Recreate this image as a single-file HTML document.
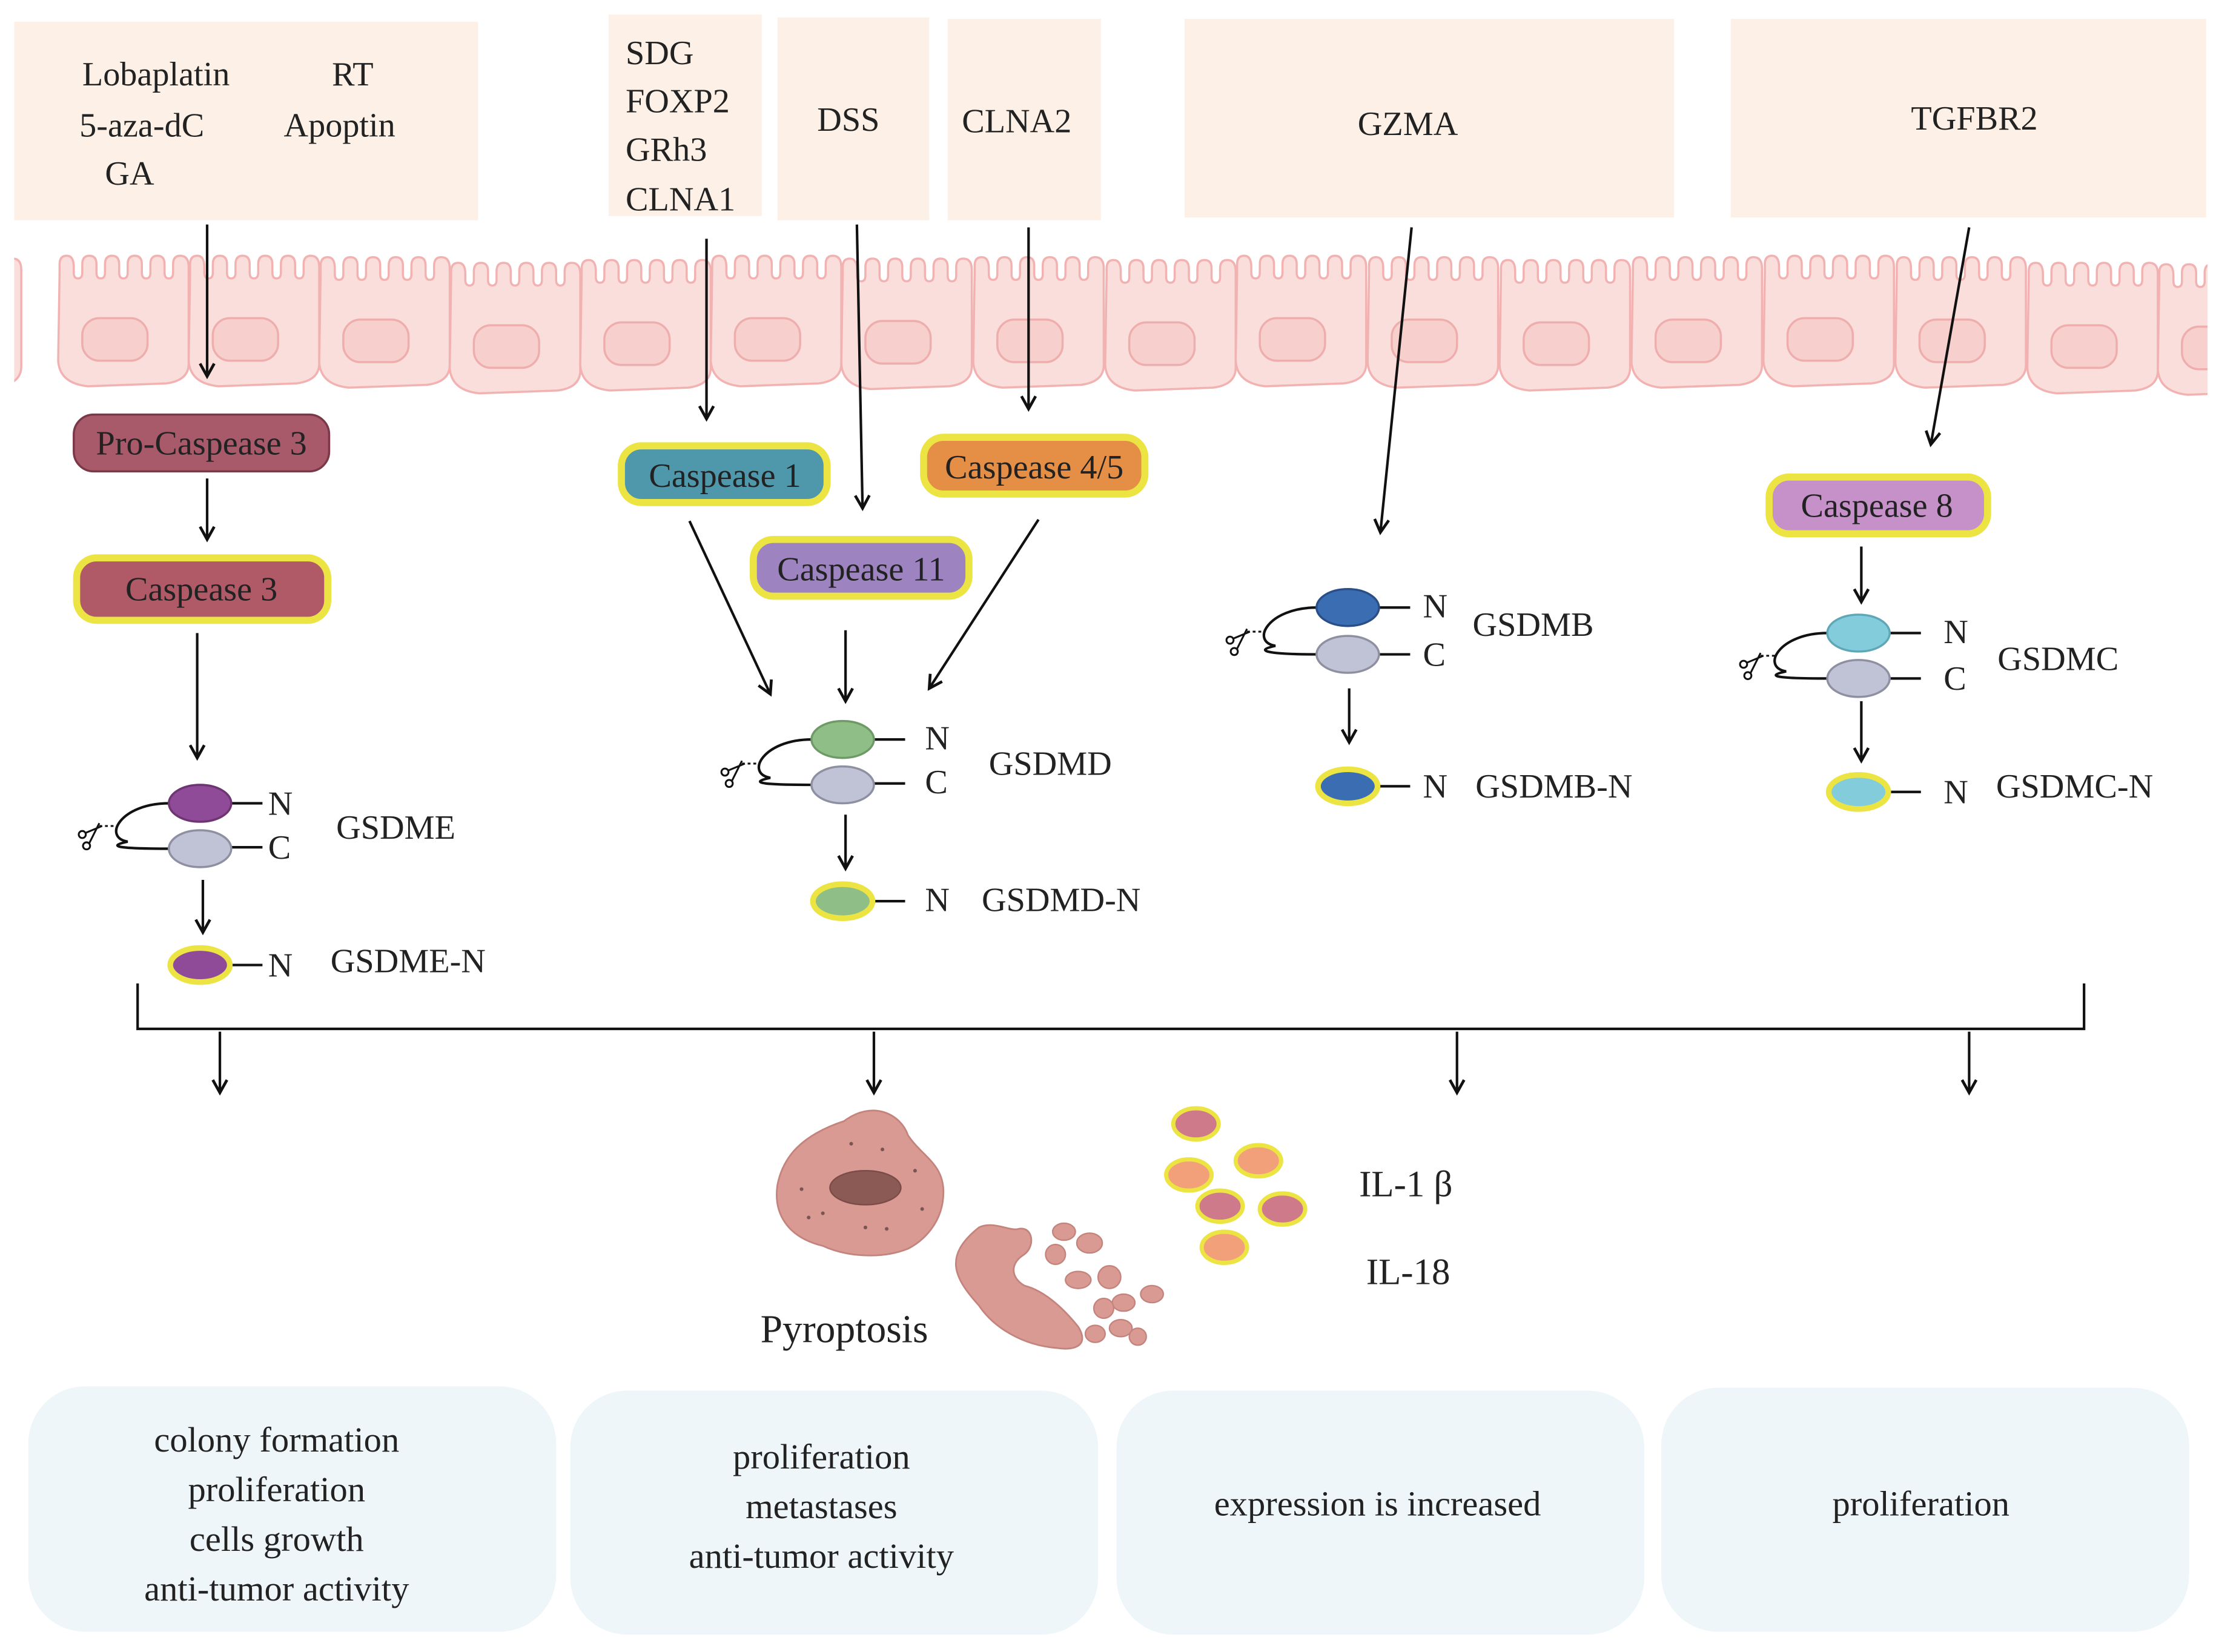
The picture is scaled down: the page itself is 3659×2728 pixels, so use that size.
<!DOCTYPE html>
<html><head><meta charset="utf-8"><style>
html,body{margin:0;padding:0;background:#fff}
svg{display:block}
text{font-family:"Liberation Serif",serif;fill:#222}
</style></head><body>
<svg width="3659" height="2728" viewBox="0 0 1562 1164" xmlns="http://www.w3.org/2000/svg">
<defs>
<marker id="ah" markerWidth="12" markerHeight="12" refX="10" refY="6" orient="auto" markerUnits="userSpaceOnUse">
<path d="M1,1 L10,6 L1,11" fill="none" stroke="#111" stroke-width="2"/>
</marker>
<g id="cell">
<path d="M4,12 v-6 q0,-6 5,-6 q5,0 5,8 v4 q0,4 3,4 q3,0 3,-4 v-6 q0,-6 5,-6 q5,0 5,6 v6 q0,4 3,4 q3,0 3,-4 v-6 q0,-6 5,-6 q5,0 5,6 v6 q0,4 3,4 q3,0 3,-4 v-6 q0,-6 5,-6 q5,0 5,6 v6 q0,4 3,4 q3,0 3,-4 v-6 q0,-6 5,-6 q5,0 5,6 v6 q0,4 3,4 q3,0 3,-4 v-6 q0,-6 5,-6 q6,0 6,8 V76 q0,12 -16,14 L24,92 Q4,90 3,74 Z" fill="#fadedb" stroke="#f2b2b2" stroke-width="1.5"/>
<rect x="20" y="44" width="46" height="30" rx="12" fill="#f7cfcd" stroke="#efaeae" stroke-width="1.5"/>
</g>
<g id="sc" fill="none" stroke="#111" stroke-width="1.3">
<circle cx="0" cy="0" r="2.5"/><circle cx="3" cy="8" r="2.5"/>
<path d="M2,-1 L14,-6 M5,6 L12,-8"/>
<path d="M12,-6 h10" stroke-dasharray="2,2"/>
</g>
</defs>

<g fill="#fdf0e6">
<rect x="10" y="15" width="327" height="140"/>
<rect x="429" y="10" width="108" height="142"/>
<rect x="548" y="12" width="107" height="143"/>
<rect x="668" y="13" width="108" height="142"/>
<rect x="835" y="13" width="345" height="140"/>
<rect x="1220" y="13" width="335" height="140"/>
</g>
<g font-size="24">
<text x="58" y="60">Lobaplatin</text><text x="234" y="60">RT</text>
<text x="56" y="96">5-aza-dC</text><text x="200" y="96">Apoptin</text>
<text x="74" y="130">GA</text>
<text x="441" y="45">SDG</text><text x="441" y="79">FOXP2</text><text x="441" y="113">GRh3</text><text x="441" y="148">CLNA1</text>
<text x="576" y="92">DSS</text>
<text x="678" y="93">CLNA2</text>
<text x="957" y="95">GZMA</text>
<text x="1347" y="91">TGFBR2</text>
</g>

<use href="#cell" x="-80" y="182"/>
<use href="#cell" x="38" y="180"/>
<use href="#cell" x="130" y="180"/>
<use href="#cell" x="222" y="181"/>
<use href="#cell" x="314" y="185"/>
<use href="#cell" x="406" y="183"/>
<use href="#cell" x="498" y="180"/>
<use href="#cell" x="590" y="182"/>
<use href="#cell" x="683" y="181"/>
<use href="#cell" x="776" y="183"/>
<use href="#cell" x="868" y="180"/>
<use href="#cell" x="961" y="181"/>
<use href="#cell" x="1054" y="183"/>
<use href="#cell" x="1147" y="181"/>
<use href="#cell" x="1240" y="180"/>
<use href="#cell" x="1333" y="181"/>
<use href="#cell" x="1426" y="185"/>
<use href="#cell" x="1518" y="186"/>
<rect x="0" y="170" width="10" height="120" fill="#fff"/>
<rect x="1556" y="170" width="10" height="120" fill="#fff"/>

<g stroke="#111" stroke-width="1.8" marker-end="url(#ah)" fill="none">
<line x1="146" y1="158" x2="146" y2="265"/>
<line x1="498" y1="168" x2="498" y2="295"/>
<line x1="604" y1="158" x2="608" y2="358"/>
<line x1="725" y1="160" x2="725" y2="288"/>
<line x1="995" y1="160" x2="973" y2="375"/>
<line x1="1388" y1="160" x2="1361" y2="313"/>
<line x1="146" y1="337" x2="146" y2="380"/>
<line x1="139" y1="446" x2="139" y2="534"/>
<line x1="486" y1="367" x2="543" y2="489"/>
<line x1="732" y1="366" x2="655" y2="485"/>
<line x1="596" y1="444" x2="596" y2="494"/>
<line x1="143" y1="620" x2="143" y2="657"/>
<line x1="596" y1="574" x2="596" y2="612"/>
<line x1="951" y1="485" x2="951" y2="523"/>
<line x1="1312" y1="385" x2="1312" y2="424"/>
<line x1="1312" y1="494" x2="1312" y2="536"/>
<line x1="155" y1="727" x2="155" y2="770"/>
<line x1="616" y1="727" x2="616" y2="770"/>
<line x1="1027" y1="727" x2="1027" y2="770"/>
<line x1="1388" y1="727" x2="1388" y2="770"/>
</g>
<path d="M97,693 V725 H1469 V693" fill="none" stroke="#111" stroke-width="1.8"/>

<rect x="52" y="292" width="180" height="40" rx="14" fill="#a85a6a" stroke="#7a3848" stroke-width="1.5"/>
<text x="142" y="320" font-size="24" text-anchor="middle">Pro-Caspease 3</text>
<rect x="54" y="393" width="177" height="44" rx="14" fill="#b05a68" stroke="#ece443" stroke-width="5"/>
<text x="142" y="423" font-size="24" text-anchor="middle">Caspease 3</text>
<rect x="438" y="314" width="145" height="40" rx="14" fill="#4f97ab" stroke="#ece443" stroke-width="5"/>
<text x="511" y="343" font-size="24" text-anchor="middle">Caspease 1</text>
<rect x="531" y="380" width="152" height="40" rx="14" fill="#9d84c1" stroke="#ece443" stroke-width="5"/>
<text x="607" y="409" font-size="24" text-anchor="middle">Caspease 11</text>
<rect x="651" y="308" width="156" height="40" rx="14" fill="#e58e45" stroke="#ece443" stroke-width="5"/>
<text x="729" y="337" font-size="24" text-anchor="middle">Caspease 4/5</text>
<rect x="1247" y="336" width="154" height="40" rx="14" fill="#c690c8" stroke="#ece443" stroke-width="5"/>
<text x="1323" y="364" font-size="24" text-anchor="middle">Caspease 8</text>

<g stroke="#111" stroke-width="1.8" fill="none">
<path d="M119,566 C85,566 72,590 90,593 C72,597 90,598 119,598"/>
<path d="M572,521 C538,521 525,545 543,548 C525,552 543,553 572,553"/>
<path d="M928,428 C894,428 881,452 899,455 C881,459 899,461 928,461"/>
<path d="M1288,446 C1254,446 1241,470 1259,473 C1241,477 1259,478 1288,478"/>
<path d="M163,566 h22 M163,597 h22 M163,680 h22"/>
<path d="M616,521 h22 M616,552 h22 M616,635 h22"/>
<path d="M972,428 h22 M972,461 h22 M972,554 h22"/>
<path d="M1332,446 h22 M1332,478 h22 M1332,558 h22"/>
</g>
<use href="#sc" x="58" y="588"/>
<use href="#sc" x="511" y="544"/>
<use href="#sc" x="867" y="451"/>
<use href="#sc" x="1229" y="468"/>

<g stroke-width="1.5">
<ellipse cx="141" cy="566" rx="22" ry="13" fill="#8f4a98" stroke="#6e3572"/>
<ellipse cx="141" cy="598" rx="22" ry="13" fill="#c0c2d6" stroke="#8e90a2"/>
<ellipse cx="141" cy="680" rx="21" ry="12" fill="#8f4a98" stroke="#ece443" stroke-width="4"/>
<ellipse cx="594" cy="521" rx="22" ry="13" fill="#8fbf86" stroke="#6e9a68"/>
<ellipse cx="594" cy="553" rx="22" ry="13" fill="#c0c2d6" stroke="#8e90a2"/>
<ellipse cx="594" cy="635" rx="21" ry="12" fill="#8fbf86" stroke="#ece443" stroke-width="4"/>
<ellipse cx="950" cy="428" rx="22" ry="13" fill="#3b6db3" stroke="#2a4f88"/>
<ellipse cx="950" cy="461" rx="22" ry="13" fill="#c0c2d6" stroke="#8e90a2"/>
<ellipse cx="950" cy="554" rx="21" ry="12" fill="#3b6db3" stroke="#ece443" stroke-width="4"/>
<ellipse cx="1310" cy="446" rx="22" ry="13" fill="#82ccdb" stroke="#5fa7b6"/>
<ellipse cx="1310" cy="478" rx="22" ry="13" fill="#c0c2d6" stroke="#8e90a2"/>
<ellipse cx="1310" cy="558" rx="21" ry="12" fill="#82ccdb" stroke="#ece443" stroke-width="4"/>
</g>
<g font-size="24">
<text x="189" y="574">N</text><text x="189" y="605">C</text><text x="237" y="591">GSDME</text>
<text x="189" y="688">N</text><text x="233" y="685">GSDME-N</text>
<text x="652" y="528">N</text><text x="652" y="559">C</text><text x="697" y="546">GSDMD</text>
<text x="652" y="642">N</text><text x="692" y="642">GSDMD-N</text>
<text x="1003" y="435">N</text><text x="1003" y="469">C</text><text x="1038" y="448">GSDMB</text>
<text x="1003" y="562">N</text><text x="1040" y="562">GSDMB-N</text>
<text x="1370" y="453">N</text><text x="1370" y="486">C</text><text x="1408" y="472">GSDMC</text>
<text x="1370" y="566">N</text><text x="1407" y="562">GSDMC-N</text>
</g>

<path d="M595,790 C615,775 635,785 640,800 C650,815 665,820 665,840 C665,862 650,875 640,880 C620,888 595,885 580,878 C555,872 545,855 548,835 C552,815 565,800 595,790 Z" fill="#d89a92" stroke="#c4847d" stroke-width="1.2"/>
<ellipse cx="610" cy="837" rx="25" ry="12" fill="#8b5a55" stroke="#7a4b47"/>
<g fill="#7a5552">
<circle cx="600" cy="806" r="1.3"/><circle cx="622" cy="810" r="1.3"/><circle cx="645" cy="825" r="1.3"/><circle cx="565" cy="838" r="1.3"/><circle cx="580" cy="855" r="1.3"/><circle cx="570" cy="858" r="1.3"/><circle cx="650" cy="852" r="1.3"/><circle cx="625" cy="866" r="1.3"/><circle cx="610" cy="865" r="1.3"/>
</g>
<path d="M690,865 C700,860 712,868 718,866 C728,864 730,878 722,884 C712,890 712,900 722,906 C738,910 752,925 760,935 C768,948 758,952 745,950 C720,948 700,935 690,920 C672,900 665,885 690,865 Z" fill="#d89a92" stroke="#c4847d" stroke-width="1.2"/>
<g fill="#d89a92" stroke="#c4847d" stroke-width="1">
<ellipse cx="750" cy="868" rx="8" ry="6"/><ellipse cx="768" cy="876" rx="9" ry="7"/><ellipse cx="744" cy="884" rx="7" ry="7"/>
<ellipse cx="760" cy="902" rx="9" ry="6"/><ellipse cx="782" cy="900" rx="8" ry="8"/><ellipse cx="792" cy="918" rx="8" ry="6"/>
<ellipse cx="778" cy="922" rx="7" ry="7"/><ellipse cx="790" cy="936" rx="8" ry="6"/><ellipse cx="772" cy="940" rx="7" ry="6"/>
<ellipse cx="812" cy="912" rx="8" ry="6"/><ellipse cx="802" cy="942" rx="6" ry="6"/>
</g>
<text x="536" y="946" font-size="28">Pyroptosis</text>

<g stroke="#ece443" stroke-width="3">
<ellipse cx="843" cy="792" rx="16" ry="11" fill="#cf7a8b"/>
<ellipse cx="887" cy="818" rx="16" ry="11" fill="#f2a07a"/>
<ellipse cx="838" cy="828" rx="16" ry="11" fill="#f2a07a"/>
<ellipse cx="860" cy="850" rx="16" ry="11" fill="#cf7a8b"/>
<ellipse cx="904" cy="852" rx="16" ry="11" fill="#cf7a8b"/>
<ellipse cx="863" cy="879" rx="16" ry="11" fill="#f2a07a"/>
</g>
<text x="958" y="843" font-size="26">IL-1 β</text>
<text x="963" y="905" font-size="26">IL-18</text>

<g fill="#eef6f9">
<rect x="20" y="977" width="372" height="173" rx="40"/>
<rect x="402" y="980" width="372" height="172" rx="40"/>
<rect x="787" y="980" width="372" height="172" rx="40"/>
<rect x="1171" y="978" width="372" height="172" rx="40"/>
</g>
<g font-size="25" text-anchor="middle">
<text x="195" y="1023">colony formation</text>
<text x="195" y="1058">proliferation</text>
<text x="195" y="1093">cells  growth</text>
<text x="195" y="1128">anti-tumor activity</text>
<text x="579" y="1035">proliferation</text>
<text x="579" y="1070">metastases</text>
<text x="579" y="1105">anti-tumor activity</text>
<text x="971" y="1068">expression is increased</text>
<text x="1354" y="1068">proliferation</text>
</g>
</svg>
</body></html>
